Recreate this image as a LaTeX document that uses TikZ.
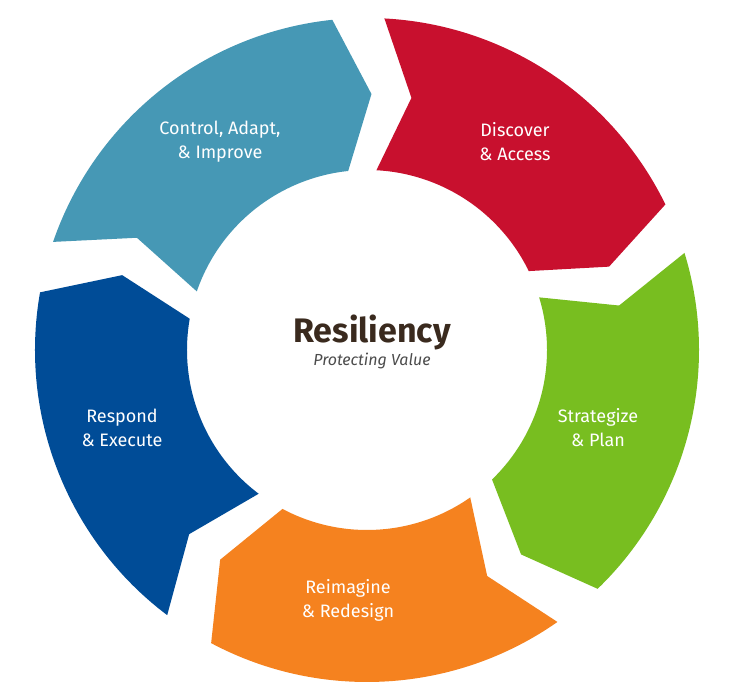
\documentclass[tikz,border=0pt]{standalone}
\usepackage{fontspec}
\setmainfont{Fira Sans}
\usetikzlibrary{positioning}
\definecolor{ctrlblue}{HTML}{4698B5}
\definecolor{discred}{HTML}{C8102E}
\definecolor{stratgreen}{HTML}{78BE20}
\definecolor{reimorange}{HTML}{F5821F}
\definecolor{respblue}{HTML}{004C97}
\definecolor{coretext}{HTML}{3A2A1E}
\tikzset{
  steplabel/.style={text=white, font=\fontsize{18}{24}\selectfont, align=center},
}
\begin{document}
\begin{tikzpicture}[x=1pt, y=1pt]
    \useasboundingbox (0,0) rectangle (750,700);
    \fill[white] (0,0) rectangle (750,700);
    % Ring of arrow segments (start angle / end angle / colour)
    \begin{scope}[shift={(367,350)}]
    \foreach \a/\b/\col in {161/89/ctrlblue, 87/19/discred, 17/-53/stratgreen, -55/-125/reimorange, -127/-197/respblue} {
        \fill[\col] (\a:332) arc[start angle=\a, end angle=\b+7, radius=332]
            -- (\b:256) -- (\b+7:180)
            arc[start angle=\b+7, end angle=\a, radius=180]
            -- (\a-7:256) -- cycle;
    }
    \end{scope}
    % Centre
    \node[font=\fontsize{34}{38}\selectfont\bfseries, text=coretext] (core) at (372,368) {Resiliency};
    \node[font=\fontsize{16}{19}\selectfont\itshape, text=black!70, below=-4pt of core] (value) {Protecting Value};
    % Step labels
    \node[steplabel] (control) at (220,558) {Control, Adapt,\\\& Improve};
    \node[steplabel] (discover) at (515,558) {Discover\\\& Access};
    \node[steplabel] (strategize) at (598,272) {Strategize\\\& Plan};
    \node[steplabel] (reimagine) at (348,100) {Reimagine\\\& Redesign};
    \node[steplabel] (respond) at (122,272) {Respond\\\& Execute};
\end{tikzpicture}
\end{document}
